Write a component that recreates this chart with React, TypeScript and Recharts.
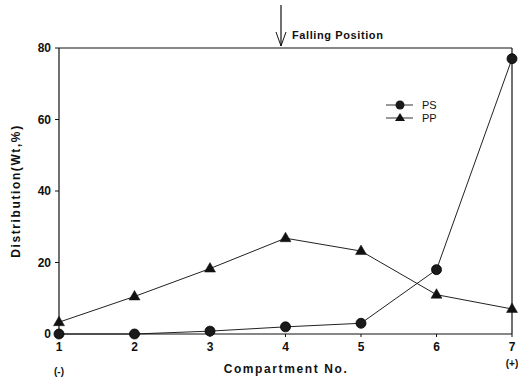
import React from "react";
import {
  LineChart,
  Line,
  XAxis,
  YAxis,
  ReferenceLine,
} from "recharts";

// Compartment numbers along the separator
const compartments = [1, 2, 3, 4, 5, 6, 7];
// Weight distribution (%) of each polymer per compartment
const psValues = [0, 0, 0.8, 2, 3, 18, 77];
const ppValues = [3.3, 10.5, 18.3, 26.8, 23.2, 11, 7];
const yTicks = [0, 20, 40, 60, 80];
const endLabels: Record<number, string> = { 1: "(-)", 7: "(+)" };

const data = compartments.map((c, i) => ({
  compartment: c,
  PS: psValues[i],
  PP: ppValues[i],
}));

const FONT = "'Liberation Sans', Arial, Helvetica, sans-serif";

const Triangle = (props: any) => {
  const { cx, cy } = props;
  if (cx == null || cy == null) return null;
  return (
    <path
      d={`M${cx},${cy - 6} L${cx + 5.5},${cy + 3.5} L${cx - 5.5},${cy + 3.5} Z`}
      fill="#111"
      stroke="#111"
      strokeWidth={0.5}
    />
  );
};

const Circle = (props: any) => {
  const { cx, cy } = props;
  if (cx == null || cy == null) return null;
  return <circle cx={cx} cy={cy} r={5} fill="#1a1a1a" stroke="#000" strokeWidth={0.8} />;
};

const XTick = (props: any) => {
  const { x, y, payload } = props;
  const extra = endLabels[payload.value];
  return (
    <g>
      <text x={x} y={y + 12} textAnchor="middle" fontFamily={FONT} fontSize={12} fontWeight="bold" fill="#111">
        {payload.value}
      </text>
      {extra && (
        <text
          x={x}
          y={payload.value === 7 ? y + 28 : y + 36}
          textAnchor="middle"
          fontFamily={FONT}
          fontSize={10}
          fontWeight="bold"
          fill="#111"
        >
          {extra}
        </text>
      )}
    </g>
  );
};

export default function App() {
  return (
    <div style={{ position: "absolute", left: 0, top: 0, width: 518, height: 382, background: "#fff" }}>
      <LineChart
        width={518}
        height={382}
        data={data}
        margin={{ top: 48, right: 6, bottom: 0, left: 0 }}
      >
        <XAxis
          dataKey="compartment"
          type="number"
          domain={[1, 7]}
          ticks={compartments}
          height={48}
          tickSize={3}
          stroke="#111"
          tick={<XTick />}
          axisLine={{ stroke: "#111", strokeWidth: 1.2 }}
        />
        <YAxis
          type="number"
          domain={[0, 80]}
          ticks={yTicks}
          width={59}
          tickSize={4}
          tickMargin={4}
          stroke="#111"
          axisLine={{ stroke: "#111", strokeWidth: 1.2 }}
          tick={{ fontFamily: FONT, fontSize: 12, fontWeight: "bold", fill: "#111" }}
          label={{
            value: "Distribution(Wt,%)",
            angle: -90,
            position: "insideLeft",
            offset: 16,
            style: {
              fontFamily: FONT,
              fontSize: 12,
              fontWeight: "bold",
              fill: "#111",
              letterSpacing: 1.6,
              textAnchor: "middle",
            },
          }}
        />
        <ReferenceLine y={80} stroke="#111" strokeWidth={1.2} />
        <ReferenceLine x={7} stroke="#111" strokeWidth={1.2} />
        <Line
          dataKey="PP"
          stroke="#222"
          strokeWidth={1}
          dot={<Triangle />}
          isAnimationActive={false}
        />
        <Line
          dataKey="PS"
          stroke="#222"
          strokeWidth={1}
          dot={<Circle />}
          isAnimationActive={false}
        />
      </LineChart>
      <svg
        width={518}
        height={382}
        style={{ position: "absolute", left: 0, top: 0, pointerEvents: "none" }}
      >
        {/* legend */}
        <g transform="translate(385,98)">
          <line x1={1} y1={7} x2={28} y2={7} stroke="#333" strokeWidth={1} />
          <circle cx={15} cy={7} r={4.5} fill="#1a1a1a" />
          <text x={37} y={11} fontFamily={FONT} fontSize={11} fill="#111">PS</text>
          <line x1={1} y1={20} x2={28} y2={20} stroke="#333" strokeWidth={1} />
          <path d="M15,15 L20,23 L10,23 Z" fill="#111" />
          <text x={37} y={24} fontFamily={FONT} fontSize={11} fill="#111">PP</text>
        </g>
        {/* falling position marker */}
        <line x1={281} y1={5} x2={281} y2={46} stroke="#111" strokeWidth={1.2} />
        <path d="M276,32 L281,46 L286,32" fill="none" stroke="#111" strokeWidth={1} />
        <text x={292} y={39} fontFamily={FONT} fontSize={11} fontWeight="bold" fill="#111" letterSpacing={0.6}>
          Falling Position
        </text>
        <text
          x={286}
          y={373}
          textAnchor="middle"
          fontFamily={FONT}
          fontSize={12}
          fontWeight="bold"
          fill="#111"
          letterSpacing={1.6}
        >
          Compartment No.
        </text>
      </svg>
    </div>
  );
}
